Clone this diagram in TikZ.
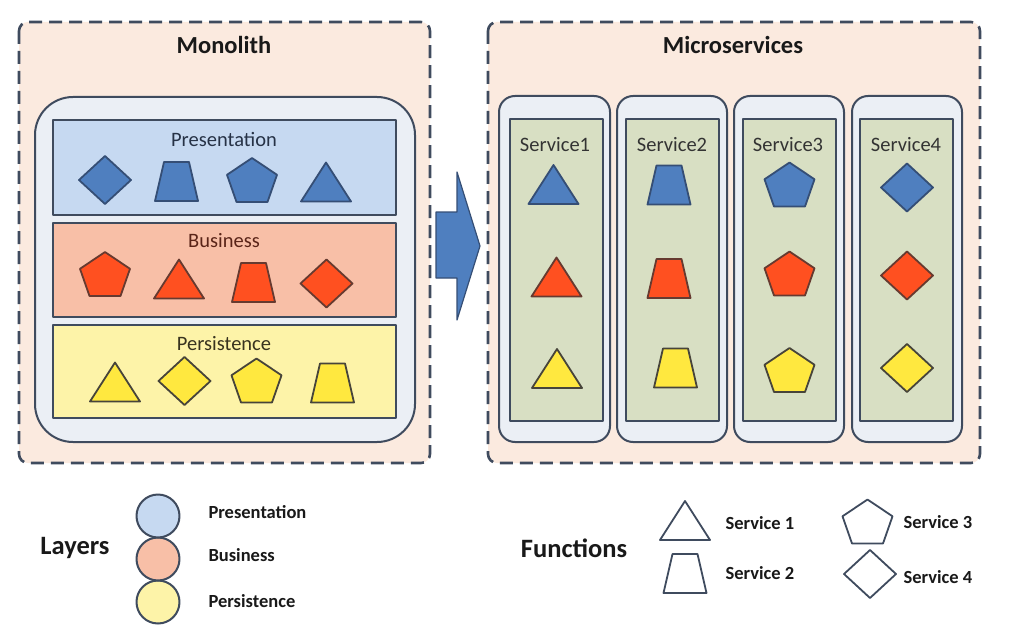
\documentclass[tikz,border=0pt]{standalone}
\usepackage{fontspec}
\setmainfont{Carlito}
\definecolor{edge}{HTML}{3F4B5E}
\definecolor{peach}{HTML}{FBEADF}
\definecolor{shell}{HTML}{EBEFF5}
\definecolor{presfill}{HTML}{C6D9F1}
\definecolor{busfill}{HTML}{F8BFA7}
\definecolor{persfill}{HTML}{FDF3A8}
\definecolor{svcfill}{HTML}{D8DFC3}
\definecolor{bluef}{HTML}{4F7FBF}
\definecolor{blued}{HTML}{354E75}
\definecolor{redf}{HTML}{FF5020}
\definecolor{redd}{HTML}{663A30}
\definecolor{yelf}{HTML}{FFE83F}
\definecolor{yeld}{HTML}{47443A}
\definecolor{prestext}{HTML}{263246}
\definecolor{bustext}{HTML}{5A2418}
\definecolor{perstext}{HTML}{38331F}
\tikzset{
  % outline shapes used as function symbols
  tri/.pic={\path[pic actions] (-25,19.5) -- (0,-19.5) -- (25,19.5) -- cycle;},
  trap/.pic={\path[pic actions] (-21.5,19.5) -- (-12.5,-19.5) -- (12.5,-19.5) -- (21.5,19.5) -- cycle;},
  penta/.pic={\path[pic actions] (0,-22) -- (25,-5.2) -- (15.5,22) -- (-15.5,22) -- (-25,-5.2) -- cycle;},
  dia/.pic={\path[pic actions] (0,-24) -- (26,0) -- (0,24) -- (-26,0) -- cycle;},
  B/.style={fill=bluef, draw=blued, line width=1.8pt},
  R/.style={fill=redf, draw=redd, line width=1.8pt},
  Y/.style={fill=yelf, draw=yeld, line width=1.8pt},
  L/.style={fill=white, draw=edge, line width=1.8pt},
  frame/.style={draw=edge, line width=2.6pt, dash pattern=on 13pt off 7pt, fill=peach, rounded corners=9pt},
  shellbox/.style={draw=edge, line width=2pt, fill=shell},
  layer/.style={draw=edge, line width=2pt},
  title/.style={font=\bfseries\fontsize{24.5}{28}\selectfont, text=black!90},
  lyrlabel/.style={font=\fontsize{20.5}{24}\selectfont},
  svclabel/.style={font=\fontsize{20.5}{24}\selectfont, text=black!80},
  legtitle/.style={font=\bfseries\fontsize{26.5}{30}\selectfont, text=black!90},
  leglabel/.style={font=\bfseries\fontsize{18.5}{22}\selectfont, text=black!90, anchor=west},
}
\begin{document}
\begin{tikzpicture}[x=1pt, y=-1pt, line join=round]
\useasboundingbox[fill=white] (0,0) rectangle (1011,639);

% ---------- Monolith ----------
\path[frame] (19,22) rectangle (430,463);
\node[title] (monotitle) at (224,45) {Monolith};
\path[shellbox, rounded corners=38pt] (35,97) rectangle (415,442);
\path[layer, fill=presfill] (53,120) rectangle (396,215);
\path[layer, fill=busfill]  (53,223) rectangle (396,317);
\path[layer, fill=persfill] (53,325) rectangle (396,418);
\node[lyrlabel, text=prestext] (lpres) at (224,139) {Presentation};
\node[lyrlabel, text=bustext]  (lbus)  at (224,241) {Business};
\node[lyrlabel, text=perstext] (lpers) at (224,344) {Persistence};

\pic[B] at (105,180) {dia};
\pic[B] at (176.5,181.5) {trap};
\pic[B] at (252,180) {penta};
\pic[B] at (326,182) {tri};

\pic[R] at (105,274) {penta};
\pic[R] at (179,279) {tri};
\pic[R] at (253.5,282.5) {trap};
\pic[R] at (326.5,283.5) {dia};

\pic[Y] at (115,382) {tri};
\pic[Y] at (184.5,381) {dia};
\pic[Y] at (256.5,380.5) {penta};
\pic[Y] at (332.5,383) {trap};

% ---------- transition arrow ----------
\path[fill=bluef, draw=blued, line width=1.2pt]
  (436,212) -- (457,212) -- (457,172) -- (480,246) -- (457,320) -- (457,278) -- (436,278) -- cycle;

% ---------- Microservices ----------
\path[frame] (488,22) rectangle (980,463);
\node[title] (microtitle) at (733,45) {Microservices};

\foreach \l/\r/\il/\ir [count=\i] in {499/610/510/603, 617/727/626/719, 734/844/743/836, 852/962/860/953}{
  \path[shellbox, rounded corners=16pt] (\l,96) rectangle (\r,442);
  \path[layer, line width=2.4pt, fill=svcfill] (\il,119) rectangle (\ir,421);
}
\node[svclabel] (s1) at (555,145) {Service1};
\node[svclabel] (s2) at (672,145) {Service2};
\node[svclabel] (s3) at (788,145) {Service3};
\node[svclabel] (s4) at (906,145) {Service4};

\pic[B] at (553.5,184.5) {tri};
\pic[R] at (556.5,277) {tri};
\pic[Y] at (557,368.5) {tri};

\pic[B] at (669,185) {trap};
\pic[R] at (669,278.5) {trap};
\pic[Y] at (675.5,368) {trap};

\pic[B] at (789.5,184.5) {penta};
\pic[R] at (789.5,273.5) {penta};
\pic[Y] at (789.5,370) {penta};

\pic[B] at (907,187.5) {dia};
\pic[R] at (907,275.5) {dia};
\pic[Y] at (907,368) {dia};

% ---------- legend: layers ----------
\node[legtitle] (layers) at (75,548) {Layers};
\path[draw=edge, line width=2pt, fill=persfill] (158,602) circle (21.5);
\path[draw=edge, line width=2pt, fill=busfill]  (158,559) circle (21.5);
\path[draw=edge, line width=2pt, fill=presfill] (158,516) circle (21.5);
\node[leglabel] (kpres) at (205,512) {Presentation};
\node[leglabel] (kbus)  at (205,555) {Business};
\node[leglabel] (kpers) at (205,601) {Persistence};

% ---------- legend: functions ----------
\node[legtitle] (functions) at (574,548) {Functions};
\pic[L] at (685,520.5) {tri};
\pic[L] at (685,573.5) {trap};
\pic[L] at (867.5,521.5) {penta};
\pic[L] at (870,574) {dia};
\node[leglabel] (k1) at (722,523) {Service 1};
\node[leglabel] (k2) at (722,573) {Service 2};
\node[leglabel] (k3) at (900,522) {Service 3};
\node[leglabel] (k4) at (900,577) {Service 4};
\end{tikzpicture}
\end{document}
